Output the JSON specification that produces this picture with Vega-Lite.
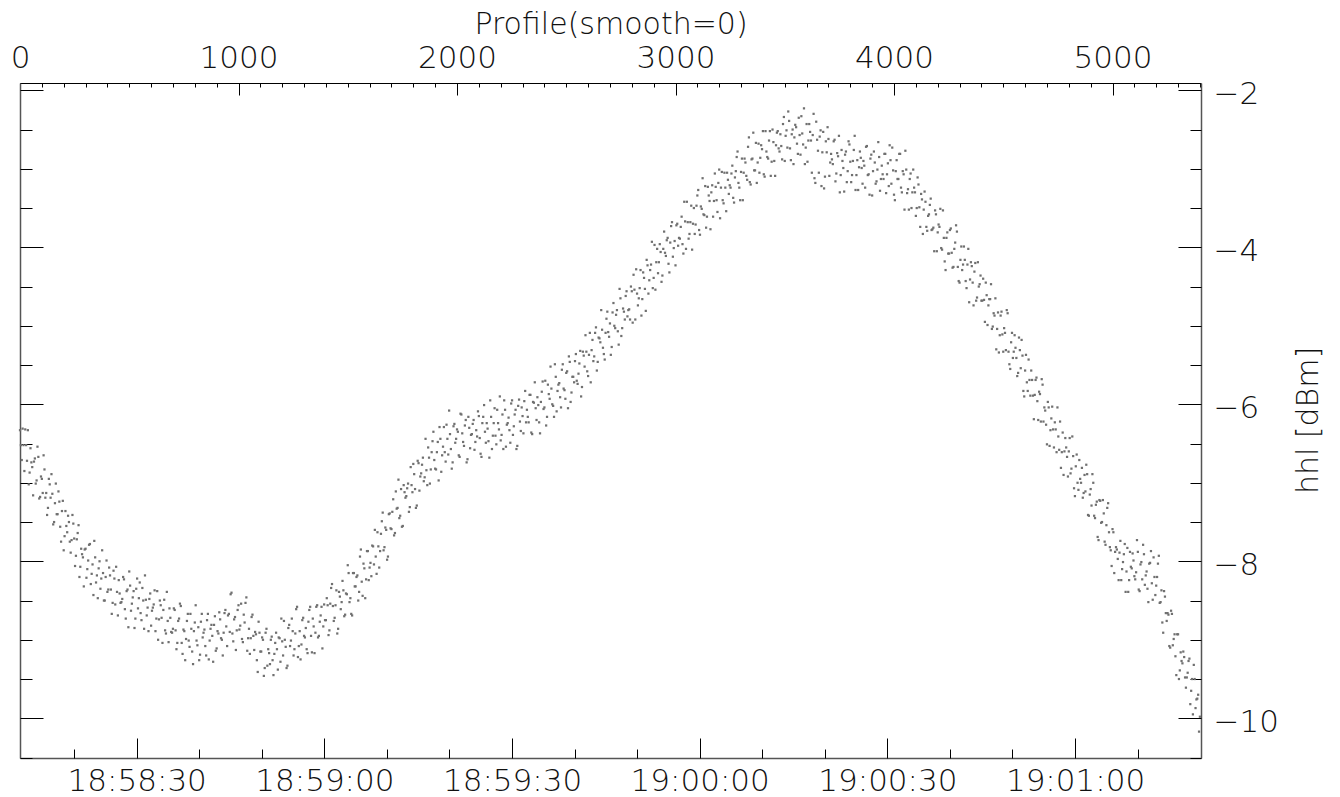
{
"$schema": "https://vega.github.io/schema/vega-lite/v6.json",
"width": 1181, "height": 675,
"autosize": "none",
"padding": {"left": 20, "top": 83, "right": 139, "bottom": 39},
"background": "white",
"config": {
 "view": {"stroke": null},
 "font": "DejaVu Sans",
 "axis": {"grid": false, "labelFont": "DejaVu Sans", "labelFontWeight": 200, "labelFontSize": 31, "labelColor": "#111", "titleFont": "DejaVu Sans", "titleFontWeight": 200, "titleFontSize": 30, "titleColor": "#111", "tickColor": "#000", "tickWidth": 1, "domainColor": "#555", "domainWidth": 1.5, "labelFlush": false, "labelOverlap": false, "labelBound": false}
},
"datasets": {
"pts": [
{"p":0,"v":-6.33},{"p":8,"v":-6.71},{"p":16,"v":-6.52},{"p":24,"v":-6.32},{"p":32,"v":-6.72},{"p":40,"v":-7.02},{"p":48,"v":-6.56},{"p":56,"v":-6.80},{"p":64,"v":-6.73},{"p":72,"v":-7.01},
{"p":80,"v":-6.54},{"p":88,"v":-7.20},{"p":96,"v":-6.92},{"p":104,"v":-7.13},{"p":112,"v":-6.83},{"p":120,"v":-7.13},{"p":128,"v":-7.32},{"p":136,"v":-7.02},{"p":144,"v":-6.89},{"p":152,"v":-7.53},
{"p":160,"v":-7.26},{"p":168,"v":-7.40},{"p":176,"v":-7.11},{"p":184,"v":-7.56},{"p":192,"v":-7.36},{"p":200,"v":-7.86},{"p":208,"v":-7.36},{"p":216,"v":-7.63},{"p":224,"v":-7.50},{"p":232,"v":-7.89},
{"p":240,"v":-7.41},{"p":248,"v":-7.71},{"p":256,"v":-7.93},{"p":264,"v":-7.64},{"p":272,"v":-8.20},{"p":280,"v":-7.84},{"p":288,"v":-7.95},{"p":296,"v":-7.85},{"p":304,"v":-8.21},{"p":312,"v":-7.99},
{"p":320,"v":-7.78},{"p":328,"v":-8.16},{"p":336,"v":-8.43},{"p":344,"v":-7.95},{"p":352,"v":-8.18},{"p":360,"v":-8.09},{"p":368,"v":-8.35},{"p":376,"v":-7.86},{"p":384,"v":-8.50},{"p":392,"v":-8.20},
{"p":400,"v":-8.39},{"p":408,"v":-8.08},{"p":416,"v":-8.36},{"p":424,"v":-8.53},{"p":432,"v":-8.22},{"p":440,"v":-8.07},{"p":448,"v":-8.69},{"p":456,"v":-8.41},{"p":464,"v":-8.52},{"p":472,"v":-8.20},
{"p":480,"v":-8.61},{"p":488,"v":-8.38},{"p":496,"v":-8.84},{"p":504,"v":-8.31},{"p":512,"v":-8.54},{"p":520,"v":-8.38},{"p":528,"v":-8.73},{"p":536,"v":-8.22},{"p":544,"v":-8.47},{"p":552,"v":-8.66},
{"p":560,"v":-8.34},{"p":568,"v":-8.86},{"p":576,"v":-8.49},{"p":584,"v":-8.59},{"p":592,"v":-8.48},{"p":600,"v":-8.82},{"p":608,"v":-8.59},{"p":616,"v":-8.37},{"p":624,"v":-8.73},{"p":632,"v":-9.00},
{"p":640,"v":-8.50},{"p":648,"v":-8.72},{"p":656,"v":-8.62},{"p":664,"v":-8.88},{"p":672,"v":-8.39},{"p":680,"v":-9.03},{"p":688,"v":-8.72},{"p":696,"v":-8.91},{"p":704,"v":-8.60},{"p":712,"v":-8.88},
{"p":720,"v":-9.04},{"p":728,"v":-8.73},{"p":736,"v":-8.57},{"p":744,"v":-9.18},{"p":752,"v":-8.89},{"p":760,"v":-8.99},{"p":768,"v":-8.67},{"p":776,"v":-9.09},{"p":784,"v":-8.86},{"p":792,"v":-9.31},
{"p":800,"v":-8.78},{"p":808,"v":-9.01},{"p":816,"v":-8.84},{"p":824,"v":-9.19},{"p":832,"v":-8.67},{"p":840,"v":-8.91},{"p":848,"v":-9.08},{"p":856,"v":-8.75},{"p":864,"v":-9.25},{"p":872,"v":-8.86},
{"p":880,"v":-8.95},{"p":888,"v":-8.81},{"p":896,"v":-9.14},{"p":904,"v":-8.89},{"p":912,"v":-8.65},{"p":920,"v":-8.98},{"p":928,"v":-9.20},{"p":936,"v":-8.66},{"p":944,"v":-8.83},{"p":952,"v":-8.69},
{"p":960,"v":-8.90},{"p":968,"v":-8.40},{"p":976,"v":-9.02},{"p":984,"v":-8.71},{"p":992,"v":-8.88},{"p":1000,"v":-8.56},{"p":1008,"v":-8.82},{"p":1016,"v":-8.99},{"p":1024,"v":-8.68},{"p":1032,"v":-8.53},
{"p":1040,"v":-9.14},{"p":1048,"v":-8.86},{"p":1056,"v":-8.98},{"p":1064,"v":-8.68},{"p":1072,"v":-9.13},{"p":1080,"v":-8.93},{"p":1088,"v":-9.41},{"p":1096,"v":-8.91},{"p":1104,"v":-9.15},{"p":1112,"v":-9.00},
{"p":1120,"v":-9.36},{"p":1128,"v":-8.86},{"p":1136,"v":-9.12},{"p":1144,"v":-9.31},{"p":1152,"v":-8.96},{"p":1160,"v":-9.45},{"p":1168,"v":-9.04},{"p":1176,"v":-9.12},{"p":1184,"v":-8.97},{"p":1192,"v":-9.28},
{"p":1200,"v":-9.02},{"p":1208,"v":-8.76},{"p":1216,"v":-9.09},{"p":1224,"v":-9.33},{"p":1232,"v":-8.81},{"p":1240,"v":-9.01},{"p":1248,"v":-8.89},{"p":1256,"v":-9.12},{"p":1264,"v":-8.61},{"p":1272,"v":-9.22},
{"p":1280,"v":-8.89},{"p":1288,"v":-9.06},{"p":1296,"v":-8.72},{"p":1304,"v":-8.97},{"p":1312,"v":-9.12},{"p":1320,"v":-8.77},{"p":1328,"v":-8.58},{"p":1336,"v":-9.16},{"p":1344,"v":-8.83},{"p":1352,"v":-8.91},
{"p":1360,"v":-8.56},{"p":1368,"v":-8.95},{"p":1376,"v":-8.69},{"p":1384,"v":-9.11},{"p":1392,"v":-8.55},{"p":1400,"v":-8.75},{"p":1408,"v":-8.56},{"p":1416,"v":-8.88},{"p":1424,"v":-8.34},{"p":1432,"v":-8.57},
{"p":1440,"v":-8.72},{"p":1448,"v":-8.37},{"p":1456,"v":-8.86},{"p":1464,"v":-8.45},{"p":1472,"v":-8.52},{"p":1480,"v":-8.37},{"p":1488,"v":-8.68},{"p":1496,"v":-8.42},{"p":1504,"v":-8.15},{"p":1512,"v":-8.47},
{"p":1520,"v":-8.69},{"p":1528,"v":-8.15},{"p":1536,"v":-8.32},{"p":1544,"v":-8.18},{"p":1552,"v":-8.39},{"p":1560,"v":-7.85},{"p":1568,"v":-8.44},{"p":1576,"v":-8.09},{"p":1584,"v":-8.23},{"p":1592,"v":-7.87},
{"p":1600,"v":-8.08},{"p":1608,"v":-8.19},{"p":1616,"v":-7.81},{"p":1624,"v":-7.60},{"p":1632,"v":-8.16},{"p":1640,"v":-7.81},{"p":1648,"v":-7.87},{"p":1656,"v":-7.49},{"p":1664,"v":-7.86},{"p":1672,"v":-7.57},
{"p":1680,"v":-7.98},{"p":1688,"v":-7.40},{"p":1696,"v":-7.58},{"p":1704,"v":-7.37},{"p":1712,"v":-7.67},{"p":1720,"v":-7.11},{"p":1728,"v":-7.32},{"p":1736,"v":-7.45},{"p":1744,"v":-7.08},{"p":1752,"v":-7.55},
{"p":1760,"v":-7.12},{"p":1768,"v":-7.17},{"p":1776,"v":-7.01},{"p":1784,"v":-7.31},{"p":1792,"v":-7.03},{"p":1800,"v":-6.76},{"p":1808,"v":-7.08},{"p":1816,"v":-7.29},{"p":1824,"v":-6.75},{"p":1832,"v":-6.92},
{"p":1840,"v":-6.77},{"p":1848,"v":-6.98},{"p":1856,"v":-6.44},{"p":1864,"v":-7.03},{"p":1872,"v":-6.68},{"p":1880,"v":-6.83},{"p":1888,"v":-6.47},{"p":1896,"v":-6.71},{"p":1904,"v":-6.83},{"p":1912,"v":-6.48},
{"p":1920,"v":-6.29},{"p":1928,"v":-6.86},{"p":1936,"v":-6.54},{"p":1944,"v":-6.61},{"p":1952,"v":-6.26},{"p":1960,"v":-6.64},{"p":1968,"v":-6.38},{"p":1976,"v":-6.82},{"p":1984,"v":-6.28},{"p":1992,"v":-6.49},
{"p":2000,"v":-6.32},{"p":2008,"v":-6.65},{"p":2016,"v":-6.12},{"p":2024,"v":-6.37},{"p":2032,"v":-6.53},{"p":2040,"v":-6.20},{"p":2048,"v":-6.70},{"p":2056,"v":-6.30},{"p":2064,"v":-6.39},{"p":2072,"v":-6.25},
{"p":2080,"v":-6.58},{"p":2088,"v":-6.33},{"p":2096,"v":-6.09},{"p":2104,"v":-6.43},{"p":2112,"v":-6.67},{"p":2120,"v":-6.16},{"p":2128,"v":-6.35},{"p":2136,"v":-6.24},{"p":2144,"v":-6.47},{"p":2152,"v":-5.95},
{"p":2160,"v":-6.57},{"p":2168,"v":-6.24},{"p":2176,"v":-6.40},{"p":2184,"v":-6.07},{"p":2192,"v":-6.32},{"p":2200,"v":-6.46},{"p":2208,"v":-6.13},{"p":2216,"v":-5.95},{"p":2224,"v":-6.54},{"p":2232,"v":-6.24},
{"p":2240,"v":-6.33},{"p":2248,"v":-5.99},{"p":2256,"v":-6.39},{"p":2264,"v":-6.13},{"p":2272,"v":-6.57},{"p":2280,"v":-6.02},{"p":2288,"v":-6.22},{"p":2296,"v":-6.04},{"p":2304,"v":-6.37},{"p":2312,"v":-5.83},
{"p":2320,"v":-6.07},{"p":2328,"v":-6.23},{"p":2336,"v":-5.88},{"p":2344,"v":-6.38},{"p":2352,"v":-5.98},{"p":2360,"v":-6.05},{"p":2368,"v":-5.91},{"p":2376,"v":-6.23},{"p":2384,"v":-5.97},{"p":2392,"v":-5.71},
{"p":2400,"v":-6.04},{"p":2408,"v":-6.27},{"p":2416,"v":-5.75},{"p":2424,"v":-5.93},{"p":2432,"v":-5.80},{"p":2440,"v":-6.02},{"p":2448,"v":-5.49},{"p":2456,"v":-6.09},{"p":2464,"v":-5.75},{"p":2472,"v":-5.91},
{"p":2480,"v":-5.56},{"p":2488,"v":-5.80},{"p":2496,"v":-5.93},{"p":2504,"v":-5.58},{"p":2512,"v":-5.39},{"p":2520,"v":-5.97},{"p":2528,"v":-5.65},{"p":2536,"v":-5.72},{"p":2544,"v":-5.36},{"p":2552,"v":-5.74},
{"p":2560,"v":-5.48},{"p":2568,"v":-5.90},{"p":2576,"v":-5.33},{"p":2584,"v":-5.52},{"p":2592,"v":-5.33},{"p":2600,"v":-5.64},{"p":2608,"v":-5.09},{"p":2616,"v":-5.31},{"p":2624,"v":-5.45},{"p":2632,"v":-5.09},
{"p":2640,"v":-5.57},{"p":2648,"v":-5.15},{"p":2656,"v":-5.21},{"p":2664,"v":-5.05},{"p":2672,"v":-5.36},{"p":2680,"v":-5.09},{"p":2688,"v":-4.82},{"p":2696,"v":-5.14},{"p":2704,"v":-5.37},{"p":2712,"v":-4.83},
{"p":2720,"v":-5.00},{"p":2728,"v":-4.86},{"p":2736,"v":-5.07},{"p":2744,"v":-4.53},{"p":2752,"v":-5.13},{"p":2760,"v":-4.78},{"p":2768,"v":-4.92},{"p":2776,"v":-4.56},{"p":2784,"v":-4.80},{"p":2792,"v":-4.92},
{"p":2800,"v":-4.56},{"p":2808,"v":-4.35},{"p":2816,"v":-4.92},{"p":2824,"v":-4.59},{"p":2832,"v":-4.65},{"p":2840,"v":-4.29},{"p":2848,"v":-4.66},{"p":2856,"v":-4.39},{"p":2864,"v":-4.81},{"p":2872,"v":-4.23},
{"p":2880,"v":-4.42},{"p":2888,"v":-4.22},{"p":2896,"v":-4.52},{"p":2904,"v":-3.97},{"p":2912,"v":-4.19},{"p":2920,"v":-4.33},{"p":2928,"v":-3.96},{"p":2936,"v":-4.44},{"p":2944,"v":-4.02},{"p":2952,"v":-4.07},
{"p":2960,"v":-3.91},{"p":2968,"v":-4.21},{"p":2976,"v":-3.94},{"p":2984,"v":-3.68},{"p":2992,"v":-4.01},{"p":3000,"v":-4.23},{"p":3008,"v":-3.70},{"p":3016,"v":-3.88},{"p":3024,"v":-3.74},{"p":3032,"v":-3.96},
{"p":3040,"v":-3.42},{"p":3048,"v":-4.02},{"p":3056,"v":-3.68},{"p":3064,"v":-3.83},{"p":3072,"v":-3.47},{"p":3080,"v":-3.70},{"p":3088,"v":-3.83},{"p":3096,"v":-3.47},{"p":3104,"v":-3.27},{"p":3112,"v":-3.84},
{"p":3120,"v":-3.51},{"p":3128,"v":-3.58},{"p":3136,"v":-3.22},{"p":3144,"v":-3.61},{"p":3152,"v":-3.34},{"p":3160,"v":-3.77},{"p":3168,"v":-3.21},{"p":3176,"v":-3.41},{"p":3184,"v":-3.23},{"p":3192,"v":-3.55},
{"p":3200,"v":-3.01},{"p":3208,"v":-3.24},{"p":3216,"v":-3.40},{"p":3224,"v":-3.05},{"p":3232,"v":-3.54},{"p":3240,"v":-3.14},{"p":3248,"v":-3.21},{"p":3256,"v":-3.06},{"p":3264,"v":-3.37},{"p":3272,"v":-3.11},
{"p":3280,"v":-2.85},{"p":3288,"v":-3.18},{"p":3296,"v":-3.40},{"p":3304,"v":-2.87},{"p":3312,"v":-3.05},{"p":3320,"v":-2.92},{"p":3328,"v":-3.14},{"p":3336,"v":-2.60},{"p":3344,"v":-3.20},{"p":3352,"v":-2.87},
{"p":3360,"v":-3.02},{"p":3368,"v":-2.67},{"p":3376,"v":-2.92},{"p":3384,"v":-3.05},{"p":3392,"v":-2.70},{"p":3400,"v":-2.52},{"p":3408,"v":-3.10},{"p":3416,"v":-2.78},{"p":3424,"v":-2.87},{"p":3432,"v":-2.52},
{"p":3440,"v":-2.91},{"p":3448,"v":-2.66},{"p":3456,"v":-3.09},{"p":3464,"v":-2.54},{"p":3472,"v":-2.74},{"p":3480,"v":-2.56},{"p":3488,"v":-2.88},{"p":3496,"v":-2.34},{"p":3504,"v":-2.58},{"p":3512,"v":-2.73},
{"p":3520,"v":-2.39},{"p":3528,"v":-2.89},{"p":3536,"v":-2.50},{"p":3544,"v":-2.60},{"p":3552,"v":-2.47},{"p":3560,"v":-2.81},{"p":3568,"v":-2.57},{"p":3576,"v":-2.33},{"p":3584,"v":-2.69},{"p":3592,"v":-2.94},
{"p":3600,"v":-2.43},{"p":3608,"v":-2.64},{"p":3616,"v":-2.53},{"p":3624,"v":-3.05},{"p":3632,"v":-2.30},{"p":3640,"v":-3.18},{"p":3648,"v":-2.63},{"p":3656,"v":-3.05},{"p":3664,"v":-2.51},{"p":3672,"v":-2.79},
{"p":3680,"v":-3.25},{"p":3688,"v":-2.65},{"p":3696,"v":-2.47},{"p":3704,"v":-3.09},{"p":3712,"v":-2.81},{"p":3720,"v":-2.94},{"p":3728,"v":-2.63},{"p":3736,"v":-3.06},{"p":3744,"v":-2.84},{"p":3752,"v":-3.30},
{"p":3760,"v":-2.76},{"p":3768,"v":-2.99},{"p":3776,"v":-2.82},{"p":3784,"v":-3.17},{"p":3792,"v":-2.65},{"p":3800,"v":-2.91},{"p":3808,"v":-3.08},{"p":3816,"v":-2.76},{"p":3824,"v":-3.27},{"p":3832,"v":-2.89},
{"p":3840,"v":-2.98},{"p":3848,"v":-2.86},{"p":3856,"v":-3.19},{"p":3864,"v":-2.96},{"p":3872,"v":-2.72},{"p":3880,"v":-3.08},{"p":3888,"v":-3.33},{"p":3896,"v":-2.82},{"p":3904,"v":-3.03},{"p":3912,"v":-2.92},
{"p":3920,"v":-3.16},{"p":3928,"v":-2.66},{"p":3936,"v":-3.28},{"p":3944,"v":-2.96},{"p":3952,"v":-3.13},{"p":3960,"v":-2.81},{"p":3968,"v":-3.07},{"p":3976,"v":-3.22},{"p":3984,"v":-2.89},{"p":3992,"v":-2.73},
{"p":4000,"v":-3.33},{"p":4008,"v":-3.03},{"p":4016,"v":-3.13},{"p":4024,"v":-2.81},{"p":4032,"v":-3.24},{"p":4040,"v":-3.03},{"p":4048,"v":-3.52},{"p":4056,"v":-3.01},{"p":4064,"v":-3.26},{"p":4072,"v":-3.13},
{"p":4080,"v":-3.50},{"p":4088,"v":-3.01},{"p":4096,"v":-3.30},{"p":4104,"v":-3.50},{"p":4112,"v":-3.20},{"p":4120,"v":-3.74},{"p":4128,"v":-3.39},{"p":4136,"v":-3.52},{"p":4144,"v":-3.42},{"p":4152,"v":-3.79},
{"p":4160,"v":-3.58},{"p":4168,"v":-3.38},{"p":4176,"v":-3.77},{"p":4184,"v":-4.05},{"p":4192,"v":-3.58},{"p":4200,"v":-3.81},{"p":4208,"v":-3.74},{"p":4216,"v":-4.01},{"p":4224,"v":-3.53},{"p":4232,"v":-4.18},
{"p":4240,"v":-3.88},{"p":4248,"v":-4.08},{"p":4256,"v":-3.78},{"p":4264,"v":-4.07},{"p":4272,"v":-4.25},{"p":4280,"v":-3.94},{"p":4288,"v":-3.80},{"p":4296,"v":-4.43},{"p":4304,"v":-4.16},{"p":4312,"v":-4.29},
{"p":4320,"v":-3.99},{"p":4328,"v":-4.43},{"p":4336,"v":-4.22},{"p":4344,"v":-4.70},{"p":4352,"v":-4.19},{"p":4360,"v":-4.45},{"p":4368,"v":-4.31},{"p":4376,"v":-4.68},{"p":4384,"v":-4.19},{"p":4392,"v":-4.47},
{"p":4400,"v":-4.68},{"p":4408,"v":-4.40},{"p":4416,"v":-4.95},{"p":4424,"v":-4.61},{"p":4432,"v":-4.74},{"p":4440,"v":-4.66},{"p":4448,"v":-5.04},{"p":4456,"v":-4.84},{"p":4464,"v":-4.65},{"p":4472,"v":-5.04},
{"p":4480,"v":-5.34},{"p":4488,"v":-4.87},{"p":4496,"v":-5.11},{"p":4504,"v":-5.03},{"p":4512,"v":-5.31},{"p":4520,"v":-4.84},{"p":4528,"v":-5.49},{"p":4536,"v":-5.21},{"p":4544,"v":-5.41},{"p":4552,"v":-5.12},
{"p":4560,"v":-5.41},{"p":4568,"v":-5.60},{"p":4576,"v":-5.31},{"p":4584,"v":-5.18},{"p":4592,"v":-5.83},{"p":4600,"v":-5.57},{"p":4608,"v":-5.72},{"p":4616,"v":-5.43},{"p":4624,"v":-5.89},{"p":4632,"v":-5.69},
{"p":4640,"v":-6.19},{"p":4648,"v":-5.69},{"p":4656,"v":-5.96},{"p":4664,"v":-5.84},{"p":4672,"v":-6.22},{"p":4680,"v":-5.75},{"p":4688,"v":-6.04},{"p":4696,"v":-6.26},{"p":4704,"v":-5.97},{"p":4712,"v":-6.53},
{"p":4720,"v":-6.18},{"p":4728,"v":-6.32},{"p":4736,"v":-6.23},{"p":4744,"v":-6.61},{"p":4752,"v":-6.41},{"p":4760,"v":-6.22},{"p":4768,"v":-6.61},{"p":4776,"v":-6.90},{"p":4784,"v":-6.43},{"p":4792,"v":-6.67},
{"p":4800,"v":-6.60},{"p":4808,"v":-6.88},{"p":4816,"v":-6.41},{"p":4824,"v":-7.07},{"p":4832,"v":-6.79},{"p":4840,"v":-7.00},{"p":4848,"v":-6.71},{"p":4856,"v":-7.00},{"p":4864,"v":-7.19},{"p":4872,"v":-6.90},
{"p":4880,"v":-6.77},{"p":4888,"v":-7.41},{"p":4896,"v":-7.15},{"p":4904,"v":-7.29},{"p":4912,"v":-7.00},{"p":4920,"v":-7.45},{"p":4928,"v":-7.24},{"p":4936,"v":-7.73},{"p":4944,"v":-7.23},{"p":4952,"v":-7.50},
{"p":4960,"v":-7.39},{"p":4968,"v":-7.79},{"p":4976,"v":-7.32},{"p":4984,"v":-7.63},{"p":4992,"v":-7.86},{"p":5000,"v":-7.59},{"p":5008,"v":-8.15},{"p":5016,"v":-7.82},{"p":5024,"v":-7.97},{"p":5032,"v":-7.89},
{"p":5040,"v":-8.24},{"p":5048,"v":-8.01},{"p":5056,"v":-7.78},{"p":5064,"v":-8.13},{"p":5072,"v":-8.39},{"p":5080,"v":-7.88},{"p":5088,"v":-8.09},{"p":5096,"v":-7.99},{"p":5104,"v":-8.23},{"p":5112,"v":-7.73},
{"p":5120,"v":-8.36},{"p":5128,"v":-8.04},{"p":5136,"v":-8.23},{"p":5144,"v":-7.91},{"p":5152,"v":-8.18},{"p":5160,"v":-8.35},{"p":5168,"v":-8.03},{"p":5176,"v":-7.87},{"p":5184,"v":-8.49},{"p":5192,"v":-8.20},
{"p":5200,"v":-8.31},{"p":5208,"v":-8.03},{"p":5216,"v":-8.53},{"p":5224,"v":-8.37},{"p":5232,"v":-8.91},{"p":5240,"v":-8.45},{"p":5248,"v":-8.76},{"p":5256,"v":-8.68},{"p":5264,"v":-9.10},{"p":5272,"v":-8.67},
{"p":5280,"v":-8.99},{"p":5288,"v":-9.21},{"p":5296,"v":-8.93},{"p":5304,"v":-9.50},{"p":5312,"v":-9.16},{"p":5320,"v":-9.30},{"p":5328,"v":-9.22},{"p":5336,"v":-9.61},{"p":5344,"v":-9.42},{"p":5352,"v":-9.24},
{"p":5360,"v":-9.65},{"p":5368,"v":-9.95},{"p":5376,"v":-9.50},{"p":5384,"v":-9.76},{"p":5392,"v":-9.70},{"p":5400,"v":-9.98},
{"p":4,"v":-6.52},{"p":12,"v":-6.31},{"p":20,"v":-6.85},{"p":28,"v":-6.52},{"p":36,"v":-6.33},{"p":44,"v":-6.87},{"p":52,"v":-6.74},{"p":60,"v":-7.16},{"p":68,"v":-6.69},{"p":76,"v":-6.97},
{"p":84,"v":-6.67},{"p":92,"v":-7.18},{"p":100,"v":-6.95},{"p":108,"v":-6.65},{"p":116,"v":-7.19},{"p":124,"v":-7.41},{"p":132,"v":-6.95},{"p":140,"v":-7.19},{"p":148,"v":-7.14},{"p":156,"v":-7.50},
{"p":164,"v":-7.01},{"p":172,"v":-7.40},{"p":180,"v":-7.24},{"p":188,"v":-7.75},{"p":196,"v":-7.23},{"p":204,"v":-7.68},{"p":212,"v":-7.55},{"p":220,"v":-7.42},{"p":228,"v":-7.75},{"p":236,"v":-7.73},
{"p":244,"v":-7.52},{"p":252,"v":-8.06},{"p":260,"v":-7.72},{"p":268,"v":-7.54},{"p":276,"v":-8.07},{"p":284,"v":-7.91},{"p":292,"v":-8.32},{"p":300,"v":-7.84},{"p":308,"v":-8.10},{"p":316,"v":-7.79},
{"p":324,"v":-8.29},{"p":332,"v":-8.04},{"p":340,"v":-7.74},{"p":348,"v":-8.27},{"p":356,"v":-8.47},{"p":364,"v":-8.00},{"p":372,"v":-8.22},{"p":380,"v":-8.15},{"p":388,"v":-8.50},{"p":396,"v":-7.99},
{"p":404,"v":-8.36},{"p":412,"v":-8.18},{"p":420,"v":-8.67},{"p":428,"v":-8.12},{"p":436,"v":-8.55},{"p":444,"v":-8.39},{"p":452,"v":-8.24},{"p":460,"v":-8.53},{"p":468,"v":-8.48},{"p":476,"v":-8.23},
{"p":484,"v":-8.73},{"p":492,"v":-8.36},{"p":500,"v":-8.13},{"p":508,"v":-8.63},{"p":516,"v":-8.46},{"p":524,"v":-8.85},{"p":532,"v":-8.35},{"p":540,"v":-8.60},{"p":548,"v":-8.27},{"p":556,"v":-8.75},
{"p":564,"v":-8.50},{"p":572,"v":-8.18},{"p":580,"v":-8.69},{"p":588,"v":-8.89},{"p":596,"v":-8.41},{"p":604,"v":-8.63},{"p":612,"v":-8.55},{"p":620,"v":-8.89},{"p":628,"v":-8.38},{"p":636,"v":-8.74},
{"p":644,"v":-8.56},{"p":652,"v":-9.04},{"p":660,"v":-8.49},{"p":668,"v":-8.92},{"p":676,"v":-8.76},{"p":684,"v":-8.60},{"p":692,"v":-8.90},{"p":700,"v":-8.86},{"p":708,"v":-8.62},{"p":716,"v":-9.12},
{"p":724,"v":-8.76},{"p":732,"v":-8.54},{"p":740,"v":-9.04},{"p":748,"v":-8.87},{"p":756,"v":-9.26},{"p":764,"v":-8.76},{"p":772,"v":-9.01},{"p":780,"v":-8.67},{"p":788,"v":-9.15},{"p":796,"v":-8.89},
{"p":804,"v":-8.56},{"p":812,"v":-9.07},{"p":820,"v":-9.26},{"p":828,"v":-8.77},{"p":836,"v":-8.97},{"p":844,"v":-8.87},{"p":852,"v":-9.20},{"p":860,"v":-8.67},{"p":868,"v":-9.01},{"p":876,"v":-8.81},
{"p":884,"v":-9.28},{"p":892,"v":-8.70},{"p":900,"v":-9.11},{"p":908,"v":-8.92},{"p":916,"v":-8.74},{"p":924,"v":-9.00},{"p":932,"v":-8.91},{"p":940,"v":-8.62},{"p":948,"v":-9.08},{"p":956,"v":-8.67},
{"p":964,"v":-8.42},{"p":972,"v":-8.92},{"p":980,"v":-8.74},{"p":988,"v":-9.13},{"p":996,"v":-8.62},{"p":1004,"v":-8.87},{"p":1012,"v":-8.54},{"p":1020,"v":-9.03},{"p":1028,"v":-8.78},{"p":1036,"v":-8.46},
{"p":1044,"v":-8.98},{"p":1052,"v":-9.18},{"p":1060,"v":-8.71},{"p":1068,"v":-8.95},{"p":1076,"v":-8.90},{"p":1084,"v":-9.26},{"p":1092,"v":-8.77},{"p":1100,"v":-9.15},{"p":1108,"v":-8.97},{"p":1116,"v":-9.46},
{"p":1124,"v":-8.91},{"p":1132,"v":-9.33},{"p":1140,"v":-9.17},{"p":1148,"v":-9.00},{"p":1156,"v":-9.26},{"p":1164,"v":-9.18},{"p":1172,"v":-8.91},{"p":1180,"v":-9.38},{"p":1188,"v":-8.98},{"p":1196,"v":-8.73},
{"p":1204,"v":-9.20},{"p":1212,"v":-9.00},{"p":1220,"v":-9.36},{"p":1228,"v":-8.85},{"p":1236,"v":-9.08},{"p":1244,"v":-8.73},{"p":1252,"v":-9.20},{"p":1260,"v":-8.92},{"p":1268,"v":-8.58},{"p":1276,"v":-9.08},
{"p":1284,"v":-9.25},{"p":1292,"v":-8.75},{"p":1300,"v":-8.95},{"p":1308,"v":-8.85},{"p":1316,"v":-9.17},{"p":1324,"v":-8.62},{"p":1332,"v":-8.95},{"p":1340,"v":-8.73},{"p":1348,"v":-9.17},{"p":1356,"v":-8.58},
{"p":1364,"v":-8.97},{"p":1372,"v":-8.77},{"p":1380,"v":-8.58},{"p":1388,"v":-8.83},{"p":1396,"v":-8.75},{"p":1404,"v":-8.47},{"p":1412,"v":-8.94},{"p":1420,"v":-8.54},{"p":1428,"v":-8.29},{"p":1436,"v":-8.76},
{"p":1444,"v":-8.56},{"p":1452,"v":-8.92},{"p":1460,"v":-8.39},{"p":1468,"v":-8.61},{"p":1476,"v":-8.25},{"p":1484,"v":-8.70},{"p":1492,"v":-8.41},{"p":1500,"v":-8.05},{"p":1508,"v":-8.52},{"p":1516,"v":-8.67},
{"p":1524,"v":-8.15},{"p":1532,"v":-8.32},{"p":1540,"v":-8.20},{"p":1548,"v":-8.50},{"p":1556,"v":-7.94},{"p":1564,"v":-8.26},{"p":1572,"v":-8.03},{"p":1580,"v":-8.47},{"p":1588,"v":-7.87},{"p":1596,"v":-8.24},
{"p":1604,"v":-8.02},{"p":1612,"v":-7.80},{"p":1620,"v":-8.04},{"p":1628,"v":-7.94},{"p":1636,"v":-7.63},{"p":1644,"v":-8.08},{"p":1652,"v":-7.65},{"p":1660,"v":-7.38},{"p":1668,"v":-7.82},{"p":1676,"v":-7.60},
{"p":1684,"v":-7.94},{"p":1692,"v":-7.39},{"p":1700,"v":-7.59},{"p":1708,"v":-7.21},{"p":1716,"v":-7.64},{"p":1724,"v":-7.33},{"p":1732,"v":-6.96},{"p":1740,"v":-7.42},{"p":1748,"v":-7.56},{"p":1756,"v":-7.03},
{"p":1764,"v":-7.19},{"p":1772,"v":-7.07},{"p":1780,"v":-7.37},{"p":1788,"v":-6.80},{"p":1796,"v":-7.12},{"p":1804,"v":-6.89},{"p":1812,"v":-7.32},{"p":1820,"v":-6.72},{"p":1828,"v":-7.10},{"p":1836,"v":-6.88},
{"p":1844,"v":-6.68},{"p":1852,"v":-6.93},{"p":1860,"v":-6.84},{"p":1868,"v":-6.55},{"p":1876,"v":-7.01},{"p":1884,"v":-6.61},{"p":1892,"v":-6.35},{"p":1900,"v":-6.82},{"p":1908,"v":-6.61},{"p":1916,"v":-6.97},
{"p":1924,"v":-6.44},{"p":1932,"v":-6.65},{"p":1940,"v":-6.29},{"p":1948,"v":-6.73},{"p":1956,"v":-6.44},{"p":1964,"v":-6.08},{"p":1972,"v":-6.57},{"p":1980,"v":-6.74},{"p":1988,"v":-6.25},{"p":1996,"v":-6.44},
{"p":2004,"v":-6.35},{"p":2012,"v":-6.67},{"p":2020,"v":-6.13},{"p":2028,"v":-6.48},{"p":2036,"v":-6.27},{"p":2044,"v":-6.74},{"p":2052,"v":-6.16},{"p":2060,"v":-6.56},{"p":2068,"v":-6.38},{"p":2076,"v":-6.20},
{"p":2084,"v":-6.48},{"p":2092,"v":-6.41},{"p":2100,"v":-6.15},{"p":2108,"v":-6.63},{"p":2116,"v":-6.24},{"p":2124,"v":-6.01},{"p":2132,"v":-6.49},{"p":2140,"v":-6.31},{"p":2148,"v":-6.68},{"p":2156,"v":-6.16},
{"p":2164,"v":-6.40},{"p":2172,"v":-6.05},{"p":2180,"v":-6.51},{"p":2188,"v":-6.24},{"p":2196,"v":-5.90},{"p":2204,"v":-6.39},{"p":2212,"v":-6.57},{"p":2220,"v":-6.07},{"p":2228,"v":-6.26},{"p":2236,"v":-6.17},
{"p":2244,"v":-6.49},{"p":2252,"v":-5.95},{"p":2260,"v":-6.28},{"p":2268,"v":-6.07},{"p":2276,"v":-6.53},{"p":2284,"v":-5.94},{"p":2292,"v":-6.34},{"p":2300,"v":-6.15},{"p":2308,"v":-5.96},{"p":2316,"v":-6.23},
{"p":2324,"v":-6.16},{"p":2332,"v":-5.88},{"p":2340,"v":-6.36},{"p":2348,"v":-5.97},{"p":2356,"v":-5.72},{"p":2364,"v":-6.20},{"p":2372,"v":-6.01},{"p":2380,"v":-6.37},{"p":2388,"v":-5.84},{"p":2396,"v":-6.06},
{"p":2404,"v":-5.70},{"p":2412,"v":-6.16},{"p":2420,"v":-5.87},{"p":2428,"v":-5.52},{"p":2436,"v":-6.00},{"p":2444,"v":-6.16},{"p":2452,"v":-5.65},{"p":2460,"v":-5.83},{"p":2468,"v":-5.73},{"p":2476,"v":-6.04},
{"p":2484,"v":-5.49},{"p":2492,"v":-5.82},{"p":2500,"v":-5.60},{"p":2508,"v":-6.05},{"p":2516,"v":-5.46},{"p":2524,"v":-5.85},{"p":2532,"v":-5.65},{"p":2540,"v":-5.45},{"p":2548,"v":-5.70},{"p":2556,"v":-5.61},
{"p":2564,"v":-5.32},{"p":2572,"v":-5.78},{"p":2580,"v":-5.38},{"p":2588,"v":-5.12},{"p":2596,"v":-5.58},{"p":2604,"v":-5.37},{"p":2612,"v":-5.72},{"p":2620,"v":-5.18},{"p":2628,"v":-5.39},{"p":2636,"v":-5.02},
{"p":2644,"v":-5.46},{"p":2652,"v":-5.16},{"p":2660,"v":-4.80},{"p":2668,"v":-5.28},{"p":2676,"v":-5.43},{"p":2684,"v":-4.91},{"p":2692,"v":-5.08},{"p":2700,"v":-4.97},{"p":2708,"v":-5.27},{"p":2716,"v":-4.71},
{"p":2724,"v":-5.03},{"p":2732,"v":-4.80},{"p":2740,"v":-5.24},{"p":2748,"v":-4.65},{"p":2756,"v":-5.03},{"p":2764,"v":-4.82},{"p":2772,"v":-4.62},{"p":2780,"v":-4.88},{"p":2788,"v":-4.79},{"p":2796,"v":-4.50},
{"p":2804,"v":-4.96},{"p":2812,"v":-4.54},{"p":2820,"v":-4.28},{"p":2828,"v":-4.74},{"p":2836,"v":-4.52},{"p":2844,"v":-4.87},{"p":2852,"v":-4.32},{"p":2860,"v":-4.53},{"p":2868,"v":-4.16},{"p":2876,"v":-4.59},
{"p":2884,"v":-4.29},{"p":2892,"v":-3.93},{"p":2900,"v":-4.39},{"p":2908,"v":-4.54},{"p":2916,"v":-4.02},{"p":2924,"v":-4.19},{"p":2932,"v":-4.06},{"p":2940,"v":-4.36},{"p":2948,"v":-3.80},{"p":2956,"v":-4.11},
{"p":2964,"v":-3.88},{"p":2972,"v":-4.32},{"p":2980,"v":-3.73},{"p":2988,"v":-4.12},{"p":2996,"v":-3.92},{"p":3004,"v":-3.72},{"p":3012,"v":-3.98},{"p":3020,"v":-3.89},{"p":3028,"v":-3.61},{"p":3036,"v":-4.08},
{"p":3044,"v":-3.67},{"p":3052,"v":-3.42},{"p":3060,"v":-3.89},{"p":3068,"v":-3.68},{"p":3076,"v":-4.03},{"p":3084,"v":-3.50},{"p":3092,"v":-3.71},{"p":3100,"v":-3.34},{"p":3108,"v":-3.78},{"p":3116,"v":-3.48},
{"p":3124,"v":-3.12},{"p":3132,"v":-3.59},{"p":3140,"v":-3.75},{"p":3148,"v":-3.23},{"p":3156,"v":-3.41},{"p":3164,"v":-3.30},{"p":3172,"v":-3.61},{"p":3180,"v":-3.06},{"p":3188,"v":-3.40},{"p":3196,"v":-3.18},
{"p":3204,"v":-3.63},{"p":3212,"v":-3.04},{"p":3220,"v":-3.44},{"p":3228,"v":-3.24},{"p":3236,"v":-3.05},{"p":3244,"v":-3.32},{"p":3252,"v":-3.24},{"p":3260,"v":-2.96},{"p":3268,"v":-3.43},{"p":3276,"v":-3.03},
{"p":3284,"v":-2.78},{"p":3292,"v":-3.24},{"p":3300,"v":-3.04},{"p":3308,"v":-3.40},{"p":3316,"v":-2.87},{"p":3324,"v":-3.09},{"p":3332,"v":-2.72},{"p":3340,"v":-3.17},{"p":3348,"v":-2.88},{"p":3356,"v":-2.54},
{"p":3364,"v":-3.02},{"p":3372,"v":-3.18},{"p":3380,"v":-2.68},{"p":3388,"v":-2.86},{"p":3396,"v":-2.75},{"p":3404,"v":-3.07},{"p":3412,"v":-2.52},{"p":3420,"v":-2.85},{"p":3428,"v":-2.64},{"p":3436,"v":-3.09},
{"p":3444,"v":-2.50},{"p":3452,"v":-2.90},{"p":3460,"v":-2.70},{"p":3468,"v":-2.52},{"p":3476,"v":-2.78},{"p":3484,"v":-2.71},{"p":3492,"v":-2.43},{"p":3500,"v":-2.90},{"p":3508,"v":-2.51},{"p":3516,"v":-2.27},
{"p":3524,"v":-2.74},{"p":3532,"v":-2.56},{"p":3540,"v":-2.94},{"p":3548,"v":-2.44},{"p":3556,"v":-2.68},{"p":3564,"v":-2.35},{"p":3572,"v":-2.82},{"p":3580,"v":-2.55},{"p":3588,"v":-2.23},{"p":3596,"v":-2.73},
{"p":3604,"v":-2.91},{"p":3612,"v":-2.43},{"p":3620,"v":-2.64},{"p":3628,"v":-2.57},{"p":3636,"v":-3.12},{"p":3644,"v":-2.40},{"p":3652,"v":-2.77},{"p":3660,"v":-2.59},{"p":3668,"v":-3.22},{"p":3676,"v":-2.53},
{"p":3684,"v":-3.10},{"p":3692,"v":-2.79},{"p":3700,"v":-2.62},{"p":3708,"v":-2.92},{"p":3716,"v":-2.88},{"p":3724,"v":-2.65},{"p":3732,"v":-3.16},{"p":3740,"v":-2.80},{"p":3748,"v":-2.58},{"p":3756,"v":-3.08},
{"p":3764,"v":-2.90},{"p":3772,"v":-3.29},{"p":3780,"v":-2.78},{"p":3788,"v":-3.03},{"p":3796,"v":-2.69},{"p":3804,"v":-3.17},{"p":3812,"v":-2.90},{"p":3820,"v":-2.58},{"p":3828,"v":-3.08},{"p":3836,"v":-3.27},
{"p":3844,"v":-2.78},{"p":3852,"v":-2.99},{"p":3860,"v":-2.90},{"p":3868,"v":-3.24},{"p":3876,"v":-2.71},{"p":3884,"v":-3.07},{"p":3892,"v":-2.87},{"p":3900,"v":-3.34},{"p":3908,"v":-2.78},{"p":3916,"v":-3.19},
{"p":3924,"v":-3.01},{"p":3932,"v":-2.85},{"p":3940,"v":-3.13},{"p":3948,"v":-3.07},{"p":3956,"v":-2.81},{"p":3964,"v":-3.31},{"p":3972,"v":-2.93},{"p":3980,"v":-2.70},{"p":3988,"v":-3.19},{"p":3996,"v":-3.02},
{"p":4004,"v":-3.40},{"p":4012,"v":-2.89},{"p":4020,"v":-3.13},{"p":4028,"v":-2.81},{"p":4036,"v":-3.30},{"p":4044,"v":-3.07},{"p":4052,"v":-2.77},{"p":4060,"v":-3.31},{"p":4068,"v":-3.52},{"p":4076,"v":-3.06},
{"p":4084,"v":-3.30},{"p":4092,"v":-3.24},{"p":4100,"v":-3.60},{"p":4108,"v":-3.11},{"p":4116,"v":-3.49},{"p":4124,"v":-3.32},{"p":4132,"v":-3.83},{"p":4140,"v":-3.29},{"p":4148,"v":-3.74},{"p":4156,"v":-3.60},
{"p":4164,"v":-3.46},{"p":4172,"v":-3.78},{"p":4180,"v":-3.75},{"p":4188,"v":-3.53},{"p":4196,"v":-4.05},{"p":4204,"v":-3.71},{"p":4212,"v":-3.51},{"p":4220,"v":-4.03},{"p":4228,"v":-3.88},{"p":4236,"v":-4.29},
{"p":4244,"v":-3.81},{"p":4252,"v":-4.08},{"p":4260,"v":-3.76},{"p":4268,"v":-4.26},{"p":4276,"v":-4.02},{"p":4284,"v":-3.72},{"p":4292,"v":-4.25},{"p":4300,"v":-4.45},{"p":4308,"v":-3.99},{"p":4316,"v":-4.22},
{"p":4324,"v":-4.16},{"p":4332,"v":-4.52},{"p":4340,"v":-4.02},{"p":4348,"v":-4.41},{"p":4356,"v":-4.24},{"p":4364,"v":-4.74},{"p":4372,"v":-4.20},{"p":4380,"v":-4.64},{"p":4388,"v":-4.50},{"p":4396,"v":-4.36},
{"p":4404,"v":-4.68},{"p":4412,"v":-4.67},{"p":4420,"v":-4.45},{"p":4428,"v":-4.99},{"p":4436,"v":-4.66},{"p":4444,"v":-4.47},{"p":4452,"v":-5.01},{"p":4460,"v":-4.87},{"p":4468,"v":-5.30},{"p":4476,"v":-4.83},
{"p":4484,"v":-5.12},{"p":4492,"v":-4.82},{"p":4500,"v":-5.33},{"p":4508,"v":-5.09},{"p":4516,"v":-4.80},{"p":4524,"v":-5.33},{"p":4532,"v":-5.55},{"p":4540,"v":-5.09},{"p":4548,"v":-5.33},{"p":4556,"v":-5.28},
{"p":4564,"v":-5.64},{"p":4572,"v":-5.15},{"p":4580,"v":-5.54},{"p":4588,"v":-5.38},{"p":4596,"v":-5.90},{"p":4604,"v":-5.37},{"p":4612,"v":-5.83},{"p":4620,"v":-5.69},{"p":4628,"v":-5.57},{"p":4636,"v":-5.89},
{"p":4644,"v":-5.88},{"p":4652,"v":-5.66},{"p":4660,"v":-6.20},{"p":4668,"v":-5.87},{"p":4676,"v":-5.68},{"p":4684,"v":-6.22},{"p":4692,"v":-6.08},{"p":4700,"v":-6.51},{"p":4708,"v":-6.04},{"p":4716,"v":-6.33},
{"p":4724,"v":-6.03},{"p":4732,"v":-6.55},{"p":4740,"v":-6.32},{"p":4748,"v":-6.04},{"p":4756,"v":-6.58},{"p":4764,"v":-6.81},{"p":4772,"v":-6.36},{"p":4780,"v":-6.60},{"p":4788,"v":-6.55},{"p":4796,"v":-6.92},
{"p":4804,"v":-6.43},{"p":4812,"v":-6.82},{"p":4820,"v":-6.66},{"p":4828,"v":-7.17},{"p":4836,"v":-6.64},{"p":4844,"v":-7.09},{"p":4852,"v":-6.95},{"p":4860,"v":-6.81},{"p":4868,"v":-7.13},{"p":4876,"v":-7.11},
{"p":4884,"v":-6.89},{"p":4892,"v":-7.42},{"p":4900,"v":-7.08},{"p":4908,"v":-6.89},{"p":4916,"v":-7.42},{"p":4924,"v":-7.28},{"p":4932,"v":-7.69},{"p":4940,"v":-7.22},{"p":4948,"v":-7.51},{"p":4956,"v":-7.22},
{"p":4964,"v":-7.75},{"p":4972,"v":-7.54},{"p":4980,"v":-7.26},{"p":4988,"v":-7.82},{"p":4996,"v":-8.06},{"p":5004,"v":-7.63},{"p":5012,"v":-7.88},{"p":5020,"v":-7.85},{"p":5028,"v":-8.24},{"p":5036,"v":-7.74},
{"p":5044,"v":-8.10},{"p":5052,"v":-7.91},{"p":5060,"v":-8.39},{"p":5068,"v":-7.83},{"p":5076,"v":-8.24},{"p":5084,"v":-8.07},{"p":5092,"v":-7.90},{"p":5100,"v":-8.19},{"p":5108,"v":-8.14},{"p":5116,"v":-7.88},
{"p":5124,"v":-8.38},{"p":5132,"v":-8.01},{"p":5140,"v":-7.79},{"p":5148,"v":-8.30},{"p":5156,"v":-8.13},{"p":5164,"v":-8.52},{"p":5172,"v":-8.02},{"p":5180,"v":-8.28},{"p":5188,"v":-7.95},{"p":5196,"v":-8.43},
{"p":5204,"v":-8.20},{"p":5212,"v":-7.93},{"p":5220,"v":-8.52},{"p":5228,"v":-8.78},{"p":5236,"v":-8.38},{"p":5244,"v":-8.66},{"p":5252,"v":-8.66},{"p":5260,"v":-9.08},{"p":5268,"v":-8.63},{"p":5276,"v":-9.07},
{"p":5284,"v":-8.93},{"p":5292,"v":-9.45},{"p":5300,"v":-8.93},{"p":5308,"v":-9.39},{"p":5316,"v":-9.27},{"p":5324,"v":-9.15},{"p":5332,"v":-9.48},{"p":5340,"v":-9.48},{"p":5348,"v":-9.27},{"p":5356,"v":-9.82},
{"p":5364,"v":-9.50},{"p":5372,"v":-9.32},{"p":5380,"v":-9.87},{"p":5388,"v":-9.75},{"p":5396,"v":-10.17}
],
"ax": [{"p": 0, "v": -6}],
"tm": [{"t": "2024-01-01T18:58:20", "v": -6}, {"t": "2024-01-01T19:01:10", "v": -6}]
},
"layer": [
 {
  "data": {"name": "pts"},
  "mark": {"type": "square", "size": 5, "color": "#707070", "opacity": 1},
  "encoding": {
   "x": {"field": "p", "type": "quantitative", "scale": {"domain": [0, 5405], "nice": false, "zero": false},
    "axis": {"orient": "top", "values": [0, 1000, 2000, 3000, 4000, 5000], "format": "d", "tickSize": -12, "labelPadding": 28, "labelBaseline": "alphabetic", "title": "Profile(smooth=0)", "titleY": -50, "titleBaseline": "alphabetic", "titleAlign": "center", "domainColor": "#000", "domainWidth": 1}},
   "y": {"field": "v", "type": "quantitative", "scale": {"domain": [-10.506, -1.907], "nice": false, "zero": false},
    "axis": {"orient": "right", "values": [-2, -4, -6, -8, -10], "format": "d", "tickSize": -23, "labelPadding": 35, "labelAlign": "left", "labelBaseline": "middle", "labelOffset": 4, "title": "hhl [dBm]", "titleAngle": 270, "titleX": 107, "titleY": 337, "titleAlign": "center", "titleBaseline": "middle"}}
  }
 },
 {
  "data": {"name": "ax"},
  "mark": {"type": "point", "opacity": 0},
  "encoding": {
   "x": {"field": "p", "type": "quantitative", "scale": {"domain": [0, 5405], "nice": false, "zero": false},
    "axis": {"orient": "top", "values": [0,100,200,300,400,500,600,700,800,900,1000,1100,1200,1300,1400,1500,1600,1700,1800,1900,2000,2100,2200,2300,2400,2500,2600,2700,2800,2900,3000,3100,3200,3300,3400,3500,3600,3700,3800,3900,4000,4100,4200,4300,4400,4500,4600,4700,4800,4900,5000,5100,5200,5300,5400], "tickSize": -4, "labels": false, "title": null, "domain": false}},
   "y": {"field": "v", "type": "quantitative", "scale": {"domain": [-10.506, -1.907], "nice": false, "zero": false},
    "axis": {"orient": "right", "values": [-10.5,-10,-9.5,-9,-8.5,-8,-7.5,-7,-6.5,-6,-5.5,-5,-4.5,-4,-3.5,-3,-2.5,-2], "tickSize": -11, "labels": false, "title": null, "domain": false}}
  }
 },
 {
  "data": {"name": "tm"},
  "mark": {"type": "point", "opacity": 0},
  "encoding": {
   "x": {"field": "t", "type": "temporal", "scale": {"domain": [{"year": 2024, "month": 1, "date": 1, "hours": 18, "minutes": 58, "seconds": 11, "milliseconds": 340}, {"year": 2024, "month": 1, "date": 1, "hours": 19, "minutes": 1, "seconds": 20, "milliseconds": 140}], "nice": false},
    "axis": {"orient": "bottom", "format": "%H:%M:%S", "values": [
      {"year": 2024, "month": 1, "date": 1, "hours": 18, "minutes": 58, "seconds": 30},
      {"year": 2024, "month": 1, "date": 1, "hours": 18, "minutes": 59, "seconds": 0},
      {"year": 2024, "month": 1, "date": 1, "hours": 18, "minutes": 59, "seconds": 30},
      {"year": 2024, "month": 1, "date": 1, "hours": 19, "minutes": 0, "seconds": 0},
      {"year": 2024, "month": 1, "date": 1, "hours": 19, "minutes": 0, "seconds": 30},
      {"year": 2024, "month": 1, "date": 1, "hours": 19, "minutes": 1, "seconds": 0}],
     "tickSize": -20, "labelPadding": 52, "labelBaseline": "alphabetic", "title": null}},
   "y": {"field": "v", "type": "quantitative", "scale": {"domain": [-10.506, -1.907], "nice": false, "zero": false},
    "axis": {"orient": "left", "values": [-2, -4, -6, -8, -10], "tickSize": -23, "labels": false, "title": null}}
  }
 },
 {
  "data": {"name": "tm"},
  "mark": {"type": "point", "opacity": 0},
  "encoding": {
   "x": {"field": "t", "type": "temporal", "scale": {"domain": [{"year": 2024, "month": 1, "date": 1, "hours": 18, "minutes": 58, "seconds": 11, "milliseconds": 340}, {"year": 2024, "month": 1, "date": 1, "hours": 19, "minutes": 1, "seconds": 20, "milliseconds": 140}], "nice": false},
    "axis": {"orient": "bottom", "values": [
      {"year": 2024, "month": 1, "date": 1, "hours": 18, "minutes": 58, "seconds": 20},
      {"year": 2024, "month": 1, "date": 1, "hours": 18, "minutes": 58, "seconds": 30},
      {"year": 2024, "month": 1, "date": 1, "hours": 18, "minutes": 58, "seconds": 40},
      {"year": 2024, "month": 1, "date": 1, "hours": 18, "minutes": 58, "seconds": 50},
      {"year": 2024, "month": 1, "date": 1, "hours": 18, "minutes": 59, "seconds": 0},
      {"year": 2024, "month": 1, "date": 1, "hours": 18, "minutes": 59, "seconds": 10},
      {"year": 2024, "month": 1, "date": 1, "hours": 18, "minutes": 59, "seconds": 20},
      {"year": 2024, "month": 1, "date": 1, "hours": 18, "minutes": 59, "seconds": 30},
      {"year": 2024, "month": 1, "date": 1, "hours": 18, "minutes": 59, "seconds": 40},
      {"year": 2024, "month": 1, "date": 1, "hours": 18, "minutes": 59, "seconds": 50},
      {"year": 2024, "month": 1, "date": 1, "hours": 19, "minutes": 0, "seconds": 0},
      {"year": 2024, "month": 1, "date": 1, "hours": 19, "minutes": 0, "seconds": 10},
      {"year": 2024, "month": 1, "date": 1, "hours": 19, "minutes": 0, "seconds": 20},
      {"year": 2024, "month": 1, "date": 1, "hours": 19, "minutes": 0, "seconds": 30},
      {"year": 2024, "month": 1, "date": 1, "hours": 19, "minutes": 0, "seconds": 40},
      {"year": 2024, "month": 1, "date": 1, "hours": 19, "minutes": 0, "seconds": 50},
      {"year": 2024, "month": 1, "date": 1, "hours": 19, "minutes": 1, "seconds": 0},
      {"year": 2024, "month": 1, "date": 1, "hours": 19, "minutes": 1, "seconds": 10}],
     "tickSize": -9, "labels": false, "title": null, "domain": false}},
   "y": {"field": "v", "type": "quantitative", "scale": {"domain": [-10.506, -1.907], "nice": false, "zero": false},
    "axis": {"orient": "left", "values": [-10.5,-10,-9.5,-9,-8.5,-8,-7.5,-7,-6.5,-6,-5.5,-5,-4.5,-4,-3.5,-3,-2.5,-2], "tickSize": -12, "labels": false, "title": null, "domain": false}}
  }
 }
],
"resolve": {"scale": {"x": "independent", "y": "independent"}}
}
